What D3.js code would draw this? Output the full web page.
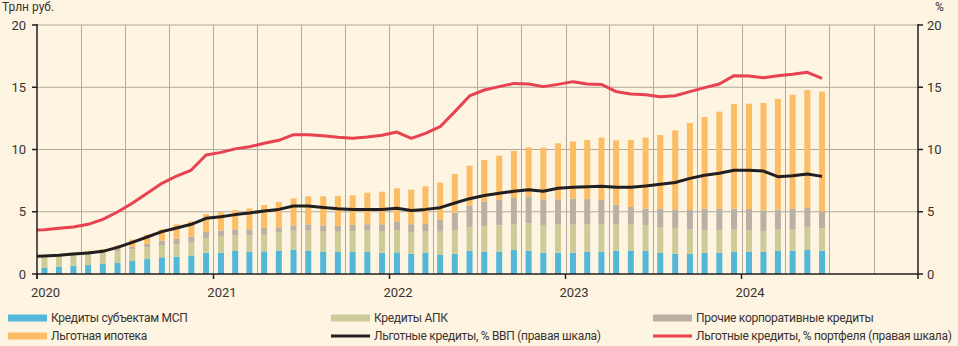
<!DOCTYPE html>
<html><head><meta charset="utf-8">
<script src="https://cdn.jsdelivr.net/npm/d3@7"></script>
<style>
html,body{margin:0;padding:0;background:#fdf4e2;}
svg{display:block;font-family:Roboto,"Noto Sans",sans-serif;}
</style></head>
<body><svg id="c" width="958" height="346"></svg>
<script>
// ---- DATA ----
const months = ["2020-01","2020-02","2020-03","2020-04","2020-05","2020-06","2020-07","2020-08","2020-09","2020-10","2020-11","2020-12",
"2021-01","2021-02","2021-03","2021-04","2021-05","2021-06","2021-07","2021-08","2021-09","2021-10","2021-11","2021-12",
"2022-01","2022-02","2022-03","2022-04","2022-05","2022-06","2022-07","2022-08","2022-09","2022-10","2022-11","2022-12",
"2023-01","2023-02","2023-03","2023-04","2023-05","2023-06","2023-07","2023-08","2023-09","2023-10","2023-11","2023-12",
"2024-01","2024-02","2024-03","2024-04","2024-05","2024-06"];
const msp = [0.51,0.59,0.67,0.72,0.80,0.88,1.04,1.20,1.34,1.39,1.47,1.71,
1.71,1.85,1.79,1.82,1.85,1.95,1.85,1.77,1.77,1.79,1.79,1.71,
1.74,1.63,1.71,1.53,1.63,1.85,1.77,1.79,1.93,1.85,1.69,1.71,
1.70,1.77,1.79,1.85,1.85,1.85,1.69,1.63,1.61,1.69,1.69,1.79,
1.79,1.77,1.85,1.85,1.93,1.86];
const apk = [0.88,0.86,0.86,0.88,0.91,0.97,0.94,0.94,0.96,0.99,1.05,1.18,
1.29,1.25,1.31,1.39,1.52,1.53,1.63,1.68,1.63,1.66,1.69,1.74,
1.76,1.74,1.74,1.87,1.90,1.90,2.09,2.12,2.07,2.22,2.25,2.28,
2.26,2.23,2.23,2.14,2.11,2.09,2.03,2.01,1.98,1.84,1.82,1.77,
1.74,1.68,1.71,1.76,1.85,1.81];
const other = [0.03,0.05,0.09,0.12,0.14,0.15,0.22,0.27,0.38,0.46,0.48,0.51,
0.50,0.49,0.49,0.48,0.38,0.42,0.51,0.45,0.46,0.49,0.52,0.55,
0.70,0.63,0.59,0.94,1.40,1.74,1.95,2.06,2.10,2.17,2.06,2.01,
2.11,2.02,1.95,1.58,1.42,1.31,1.50,1.50,1.55,1.72,1.71,1.69,
1.69,1.66,1.61,1.61,1.55,1.36];
const mortgage = [0.00,0.03,0.12,0.15,0.15,0.30,0.56,0.75,0.91,1.15,1.23,1.42,
1.45,1.55,1.68,1.85,2.03,2.18,2.25,2.34,2.41,2.38,2.53,2.61,
2.68,2.77,3.00,3.00,3.10,3.21,3.35,3.53,3.78,3.93,4.15,4.50,
4.58,4.74,4.98,5.17,5.38,5.70,5.94,6.40,6.99,7.36,7.82,8.40,
8.46,8.62,8.89,9.18,9.45,9.62];
const lineMonths = ["2019-12"].concat(months);
const gdpShare = [1.40,1.45,1.50,1.60,1.69,1.82,2.14,2.54,2.97,3.40,3.70,3.99,4.47,
4.60,4.77,4.90,5.06,5.19,5.46,5.47,5.35,5.25,5.19,5.18,5.18,
5.28,5.10,5.19,5.33,5.70,6.05,6.30,6.48,6.64,6.76,6.65,6.88,
6.96,7.01,7.05,6.96,6.96,7.07,7.20,7.35,7.68,7.93,8.09,8.33,
8.33,8.27,7.82,7.90,8.03,7.84];
const portfolioShare = [3.50,3.56,3.67,3.78,3.99,4.39,4.98,5.68,6.48,7.28,7.87,8.35,9.56,
9.77,10.05,10.22,10.50,10.74,11.19,11.19,11.11,10.98,10.90,11.00,11.14,
11.40,10.90,11.30,11.83,13.04,14.30,14.78,15.05,15.31,15.26,15.05,15.23,
15.45,15.26,15.23,14.65,14.46,14.40,14.24,14.32,14.65,14.97,15.26,15.93,
15.90,15.77,15.93,16.04,16.20,15.72];
const yTicks = [0,5,10,15,20];
const yearLabels = ["2020","2021","2022","2023","2024"];
const seriesNames = ["Кредиты субъектам МСП","Кредиты АПК","Прочие корпоративные кредиты","Льготная ипотека"];
const lineNames = ["Льготные кредиты, % ВВП (правая шкала)","Льготные кредиты, % портфеля (правая шкала)"];
const leftUnit = "Трлн руб.", rightUnit = "%";

// ---- STYLE ----
const colors = ["#53b8d8","#cdcc98","#bab0a4","#fdbd64"];
const gdpColor = "#231f20", portColor = "#e8414f";
const gridColor = "#b4a89b", axisColor = "#231f20", textColor = "#3a3330";

const svg = d3.select("#c");
const W=958,H=346, L=37, R=918, T=25, B=274;
const parse = d3.timeParse("%Y-%m");
const x = d3.scaleTime().domain([new Date(2020,0,1), new Date(2025,0,1)]).range([L,R]);
const y = d3.scaleLinear().domain([0,20]).range([B,T]);
const mid = d => { const a=parse(d); return (x(a)+x(d3.timeMonth.offset(a,1)))/2; };

svg.append("rect").attr("width",W).attr("height",H).attr("fill","#fdf4e2");

// grid
const g = svg.append("g");
g.selectAll(".hg").data(yTicks.filter(v=>v>0)).join("line")
  .attr("x1",L).attr("x2",R).attr("y1",d=>y(d)).attr("y2",d=>y(d))
  .attr("stroke",gridColor).attr("stroke-width",1);
const quarters = d3.timeMonth.every(3).range(new Date(2020,0,1), new Date(2025,0,1)).filter(d=>+d>+x.domain()[0]);
g.selectAll(".vg").data(quarters).join("line")
  .attr("x1",d=>Math.round(x(d))+0.5).attr("x2",d=>Math.round(x(d))+0.5).attr("y1",T).attr("y2",B)
  .attr("stroke",gridColor).attr("stroke-width",1);

// stacked bars
const table = months.map((m,i)=>({m, v:[msp[i],apk[i],other[i],mortgage[i]]}));
const keys=[0,1,2,3];
const stack = d3.stack().keys(keys).value((d,k)=>d.v[k]);
const layers = stack(table);
const bw = 6;
svg.append("g").selectAll("g").data(layers).join("g").attr("fill",(d,i)=>colors[i])
  .selectAll("rect").data(d=>d).join("rect")
  .attr("x",d=>mid(d.data.m)-bw/2).attr("width",bw)
  .attr("y",d=>y(d[1])).attr("height",d=>Math.max(0,y(d[0])-y(d[1])));

// lines
svg.append("clipPath").attr("id","clip").append("rect").attr("x",L).attr("y",0).attr("width",R-L).attr("height",B);
const line = d3.line().x((d,i)=>mid(lineMonths[i])).y(d=>y(d));
svg.append("path").datum(gdpShare).attr("clip-path","url(#clip)").attr("d",line)
  .attr("fill","none").attr("stroke",gdpColor).attr("stroke-width",3).attr("stroke-linejoin","round");
svg.append("path").datum(portfolioShare).attr("clip-path","url(#clip)").attr("d",line)
  .attr("fill","none").attr("stroke",portColor).attr("stroke-width",3).attr("stroke-linejoin","round");

// axes
const ax = svg.append("g").attr("stroke",axisColor).attr("stroke-width",1.5);
ax.append("line").attr("x1",L).attr("x2",L).attr("y1",T-1).attr("y2",B+5);
ax.append("line").attr("x1",R).attr("x2",R).attr("y1",T-1).attr("y2",B+5);
ax.append("line").attr("x1",L).attr("x2",R).attr("y1",B).attr("y2",B);
ax.selectAll(".lt").data(yTicks).join("line").attr("x1",L-5).attr("x2",L).attr("y1",d=>y(d)).attr("y2",d=>y(d));
ax.selectAll(".rt").data(yTicks).join("line").attr("x1",R).attr("x2",R+5).attr("y1",d=>y(d)).attr("y2",d=>y(d));
const years = yearLabels.map(s=>new Date(+s,0,1));
ax.selectAll(".xt").data(years).join("line").attr("x1",d=>x(d)).attr("x2",d=>x(d)).attr("y1",B).attr("y2",B+5);

const tg = svg.append("g").attr("fill",textColor).attr("font-size",13);
tg.selectAll(".ly").data(yTicks).join("text").attr("x",26).attr("y",d=>y(d)).attr("dy","0.36em")
  .attr("text-anchor","end").text(d=>d);
tg.selectAll(".ry").data(yTicks).join("text").attr("x",927).attr("y",d=>y(d)).attr("dy","0.36em")
  .attr("text-anchor","start").text(d=>d);
tg.selectAll(".xl").data(years).join("text").attr("x",d=>x(d)+8.5).attr("y",297)
  .attr("text-anchor","middle").text((d,i)=>yearLabels[i]);
tg.append("text").attr("x",2).attr("y",11).attr("font-size",12).text(leftUnit);
tg.append("text").attr("x",935).attr("y",11).attr("font-size",12).text(rightUnit);

// legend
const leg = svg.append("g").attr("font-size",12).attr("letter-spacing","-0.3px").attr("fill",textColor);
const items = [
  {t:seriesNames[0], c:colors[0], type:"bar", x:8, y:318},
  {t:seriesNames[1], c:colors[1], type:"bar", x:331, y:318},
  {t:seriesNames[2], c:colors[2], type:"bar", x:653, y:318},
  {t:seriesNames[3], c:colors[3], type:"bar", x:8, y:336},
  {t:lineNames[0], c:gdpColor, type:"line", x:331, y:336},
  {t:lineNames[1], c:portColor, type:"line", x:653, y:336}
];
items.forEach(it=>{
  if(it.type==="bar") leg.append("rect").attr("x",it.x).attr("y",it.y-3.5).attr("width",39).attr("height",7).attr("fill",it.c);
  else leg.append("line").attr("x1",it.x).attr("x2",it.x+39).attr("y1",it.y).attr("y2",it.y).attr("stroke",it.c).attr("stroke-width",3);
  leg.append("text").attr("x",it.x+43).attr("y",it.y).attr("dy","0.36em").text(it.t);
});
</script></body></html>
